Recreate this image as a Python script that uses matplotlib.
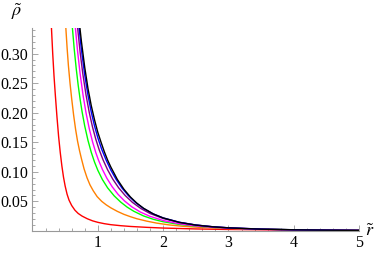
import numpy as np
import matplotlib.pyplot as plt
from matplotlib.ticker import MultipleLocator, FixedLocator

plt.rcParams['font.family'] = 'serif'
plt.rcParams['font.serif'] = ['Liberation Serif', 'DejaVu Serif']
plt.rcParams['mathtext.fontset'] = 'stix'

# curves: (r, rho) pairs, left to right
r_red = [0.29, 0.31, 0.33, 0.35, 0.375, 0.40, 0.425, 0.45, 0.475, 0.50, 0.53, 0.56, 0.60, 0.65, 0.70, 0.76, 0.84, 0.92,
         1.0, 1.1, 1.2, 1.35, 1.5, 1.75, 2.0, 2.5, 3.0, 3.5, 4.0, 4.5, 5.0]
rho_red = [0.345, 0.300, 0.262, 0.230, 0.193, 0.160, 0.133, 0.110, 0.091, 0.076, 0.062, 0.052, 0.043, 0.035, 0.0295,
           0.025, 0.0205, 0.017, 0.0145, 0.0122, 0.0105, 0.0088, 0.0075, 0.0060, 0.0048, 0.0033, 0.0024, 0.0019,
           0.0015, 0.0012, 0.0010]

r_orange = [0.51, 0.53, 0.55, 0.575, 0.60, 0.63, 0.66, 0.69, 0.72, 0.75, 0.79, 0.835, 0.88, 0.93, 0.99, 1.06, 1.13,
            1.20, 1.30, 1.40, 1.50, 1.60, 1.75, 1.90, 2.1, 2.3, 2.55, 2.8, 3.0, 3.5, 4.0, 4.5, 5.0]
rho_orange = [0.345, 0.310, 0.280, 0.250, 0.224, 0.196, 0.172, 0.152, 0.136, 0.122, 0.105, 0.090, 0.078, 0.068, 0.058,
              0.050, 0.044, 0.039, 0.033, 0.028, 0.024, 0.0205, 0.0165, 0.0132, 0.0100, 0.0078, 0.0060, 0.0048,
              0.0040, 0.0027, 0.0019, 0.0014, 0.0011]

r_green = [0.61, 0.64, 0.67, 0.70, 0.73, 0.76, 0.80, 0.85, 0.90, 0.95, 1.00, 1.07, 1.15, 1.25, 1.35, 1.45, 1.55, 1.7,
           1.85, 2.0, 2.25, 2.5, 2.75, 3.0, 3.5, 4.0, 4.5, 5.0]
rho_green = [0.345, 0.307, 0.2745, 0.2465, 0.2223, 0.2014, 0.1776, 0.1531, 0.1330, 0.1165, 0.1027, 0.0870, 0.0729,
             0.0594, 0.0488, 0.0402, 0.0333, 0.0253, 0.0196, 0.0155, 0.0109, 0.0079, 0.0060, 0.0046, 0.0029, 0.0019,
             0.0013, 0.0010]

r_magenta = [0.656, 0.69, 0.73, 0.775, 0.82, 0.87, 0.92, 0.97, 1.01, 1.07, 1.14, 1.22, 1.31, 1.41, 1.52, 1.65, 1.8,
             2.0, 2.25, 2.5, 2.75, 3.0, 3.5, 4.0, 4.5, 5.0]
rho_magenta = [0.345, 0.3048, 0.2655, 0.2293, 0.1997, 0.1728, 0.1507, 0.1323, 0.1200, 0.1042, 0.0889, 0.0748, 0.0619,
               0.0506, 0.0408, 0.0320, 0.0246, 0.0176, 0.0120, 0.0084, 0.0061, 0.0045, 0.0026, 0.0016, 0.0011,
               0.00075]

r_purple = [0.69, 0.73, 0.77, 0.82, 0.87, 0.92, 0.97, 1.02, 1.08, 1.15, 1.23, 1.32, 1.42, 1.53, 1.66, 1.8, 2.0, 2.25,
            2.5, 2.75, 3.0, 3.5, 4.0, 4.5, 5.0]
rho_purple = [0.345, 0.3022, 0.2666, 0.2300, 0.2001, 0.1755, 0.1550, 0.1377, 0.1204, 0.1035, 0.0875, 0.0728, 0.0598,
              0.0483, 0.0378, 0.0294, 0.0210, 0.0142, 0.0099, 0.0071, 0.0052, 0.0030, 0.0019, 0.00125, 0.00085]

r_blue = [0.712, 0.75, 0.80, 0.85, 0.90, 0.95, 1.00, 1.06, 1.13, 1.20, 1.28, 1.37, 1.47, 1.58, 1.70, 1.85, 2.0, 2.25,
          2.5, 2.75, 3.0, 3.5, 4.0, 4.5, 5.0]
rho_blue = [0.345, 0.3061, 0.2639, 0.2295, 0.2012, 0.1777, 0.1579, 0.1381, 0.1192, 0.1029, 0.0873, 0.0726, 0.0594,
            0.0478, 0.0380, 0.0287, 0.0220, 0.0146, 0.0100, 0.0071, 0.0052, 0.0030, 0.0019, 0.00122, 0.00084]

r_black = [0.725, 0.75, 0.80, 0.85, 0.90, 0.95, 1.00, 1.05, 1.10, 1.15, 1.20, 1.30, 1.40, 1.50, 1.60, 1.70, 1.85, 2.0,
           2.25, 2.5, 2.75, 3.0, 3.5, 4.0, 4.5, 5.0]
rho_black = [0.345, 0.320, 0.277, 0.241, 0.212, 0.188, 0.167, 0.150, 0.134, 0.120, 0.108, 0.087, 0.0705, 0.0573,
             0.0468, 0.0383, 0.0287, 0.0219, 0.0144, 0.0098, 0.0070, 0.0051, 0.0029, 0.0018, 0.0012, 0.0008]

curves = [
    (r_red, rho_red, '#ff0000'),
    (r_orange, rho_orange, '#ff8000'),
    (r_green, rho_green, '#00ff00'),
    (r_magenta, rho_magenta, '#ff00ff'),
    (r_purple, rho_purple, '#800080'),
    (r_blue, rho_blue, '#0000ff'),
    (r_black, rho_black, '#000000'),
]

fig = plt.figure(figsize=(3.82, 2.54), dpi=100)
ax = fig.add_axes([0.085, 0.091, 0.855, 0.80])

for r, rho, c in curves:
    ax.plot(r, rho, color=c, lw=1.0, solid_joinstyle='round')

ax.set_xlim(0, 5)
ax.set_ylim(0, 0.344)

for s in ('top', 'right'):
    ax.spines[s].set_visible(False)
for s in ('left', 'bottom'):
    ax.spines[s].set_color('#999999')
    ax.spines[s].set_linewidth(0.8)

ax.xaxis.set_major_locator(FixedLocator([1, 2, 3, 4, 5]))
ax.xaxis.set_minor_locator(MultipleLocator(0.2))
ax.yaxis.set_major_locator(FixedLocator([0.05, 0.10, 0.15, 0.20, 0.25, 0.30]))
ax.yaxis.set_minor_locator(MultipleLocator(0.01))
ax.set_yticklabels(['0.05', '0.10', '0.15', '0.20', '0.25', '0.30'])
ax.tick_params(which='both', direction='in', color='#999999', width=0.6, labelsize=11.5, pad=3)
ax.tick_params(which='major', length=4)
ax.tick_params(which='minor', length=2.5)

fig.text(17 / 382, 1 - 12 / 254, r'$\tilde{\rho}$', fontsize=13, ha='center', va='center')
fig.text(370 / 382, 1 - 231 / 254, r'$\tilde{r}$', fontsize=13, ha='center', va='center')

fig.savefig('out.png', dpi=100)
